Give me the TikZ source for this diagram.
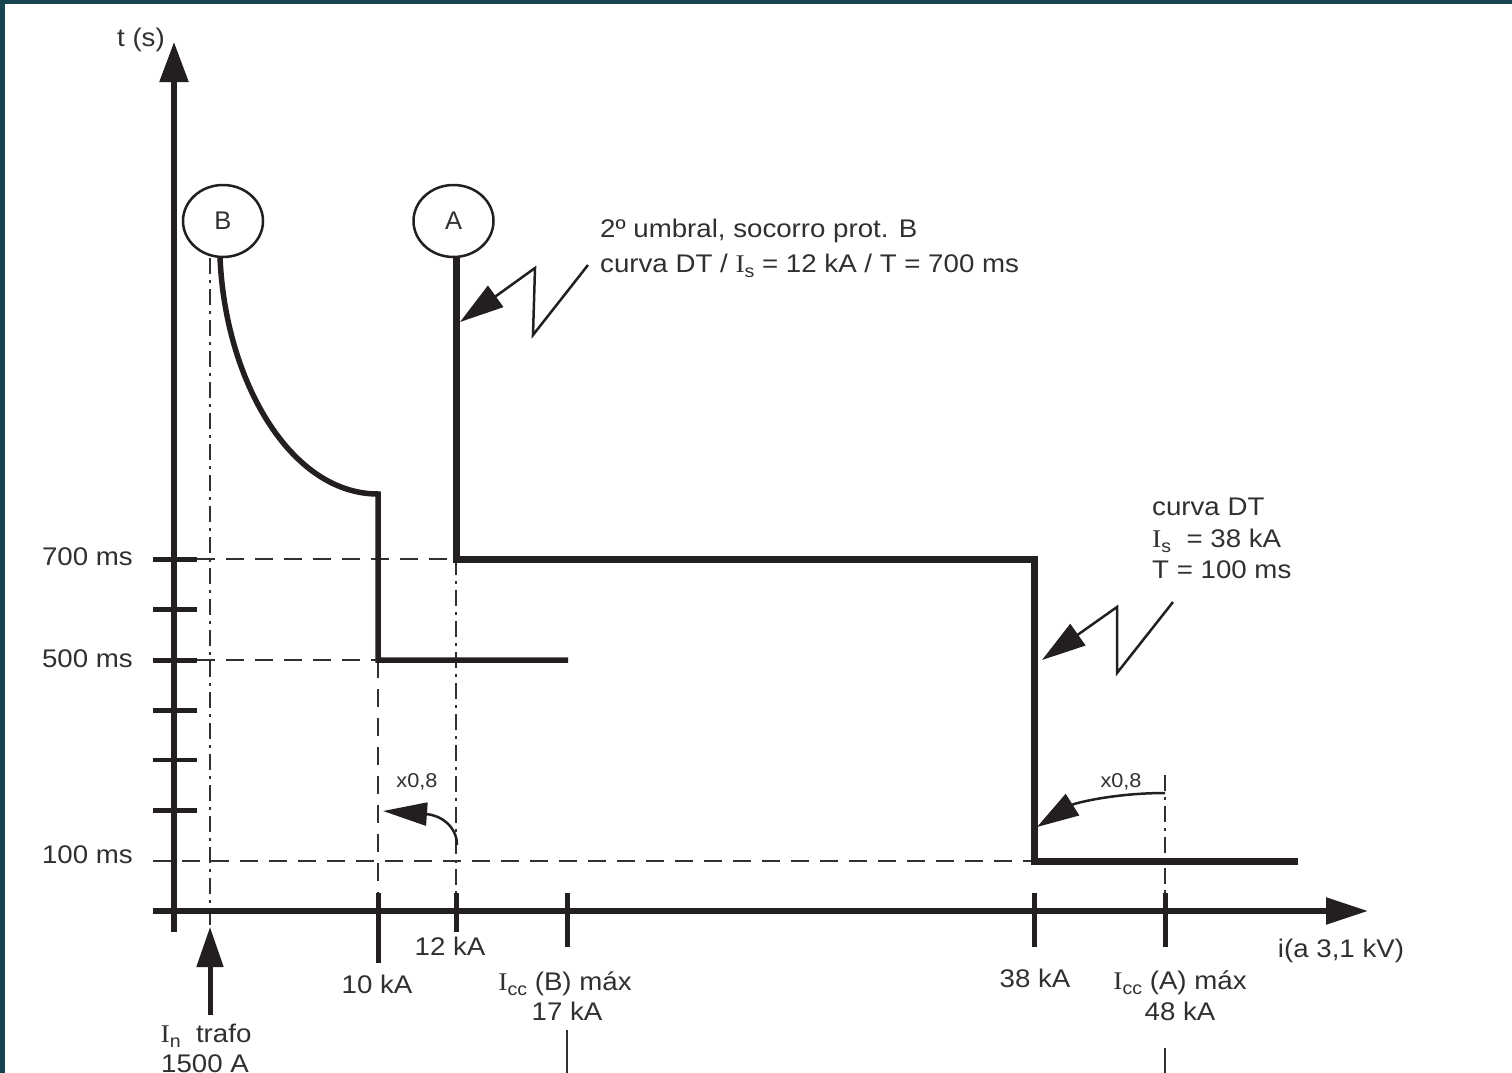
\documentclass[tikz,border=0pt]{standalone}
\usepackage{fontspec}
\setmainfont{Liberation Sans}
\newfontfamily\serifI{Liberation Serif}
\usetikzlibrary{arrows.meta,shapes.geometric}
\definecolor{teal0}{RGB}{23,68,80}
\definecolor{ink}{RGB}{35,31,32}
\definecolor{txt}{RGB}{48,48,48}
\newcommand{\Isub}[1]{{\serifI I}\raisebox{-0.2em}{\fontsize{18}{18}\selectfont #1}}
\begin{document}
\begin{tikzpicture}[x=1pt,y=-1pt,
  lbl/.style={font=\fontsize{25.5}{28}\selectfont, text=txt, inner sep=0pt, xscale=1.085},
  small/.style={font=\fontsize{20}{22}\selectfont, text=txt, inner sep=0pt, xscale=1.085},
  axis/.style={line width=5.5pt, draw=ink},
  tickmark/.style={line width=5pt, draw=ink},
  curveA/.style={line width=7pt, draw=ink},
  curveB/.style={line width=5.5pt, draw=ink},
  guide/.style={line width=1.8pt, draw=txt, dash pattern=on 18pt off 11pt},
  guidedd/.style={line width=1.8pt, draw=txt, dash pattern=on 16pt off 6pt on 3pt off 6pt},
  pointer/.style={line width=2.5pt, draw=ink, -{Triangle[length=44pt,width=26pt]}},
  bubble/.style={ellipse, draw=ink, line width=2.5pt, minimum width=80pt, minimum height=72pt, inner sep=0pt, font=\fontsize{25.5}{28}\selectfont, text=txt},
]
\fill[teal0] (0,0) rectangle (1512,1073);
\fill[white] (5,4) rectangle (1512,1073);
\useasboundingbox (0,0) rectangle (1512,1073);

% guides
\draw[guide] (197,559) -- (456,559);
\draw[guide] (197,660) -- (378,660);
\draw[guide] (153,861) -- (1034,861);
\draw[guide] (378,660) -- (378,893);
\draw[guidedd] (456,559) -- (456,893);
\draw[guidedd] (210,258) -- (210,925);
\draw[guidedd] (1165,775) -- (1165,893);
\draw[line width=1.8pt, draw=txt] (567,1030) -- (567,1073);
\draw[line width=1.8pt, draw=txt] (1165,1048) -- (1165,1073);

% axes
\draw[axis, -{Triangle[length=40pt,width=28pt]}] (174,932) -- (174,42);
\draw[axis, -{Triangle[length=42pt,width=26pt]}] (153,911) -- (1368,911);

% y ticks
\foreach \yy in {559,609,660,710,810} \draw[tickmark] (153,\yy) -- (197,\yy);
\draw[tickmark, line width=3.5pt] (153,760) -- (197,760);

% x ticks
\draw[tickmark] (378,893) -- (378,963);
\draw[tickmark] (456,893) -- (456,932);
\draw[tickmark] (567,893) -- (567,947);
\draw[tickmark] (1034,893) -- (1034,947);
\draw[tickmark] (1165,893) -- (1165,947);

% bubbles
\node[bubble] (B) at (223,221) {B};
\node[bubble] (A) at (453.5,221) {A};

% curves
\draw[curveB] (220,257) .. controls (225,380) and (290,494) .. (378,494) -- (378,660) -- (568,660);
\draw[curveA] (456,257) -- (456,559) -- (1034,559) -- (1034,861) -- (1298,861);

% pointers
\draw[pointer] (588,265) -- (533,335) -- (535,268) -- (460,322);
\draw[pointer] (1173,602) -- (1117,673) -- (1117,607) -- (1042,660);
\draw[line width=2.5pt, draw=ink, -{Triangle[length=44pt,width=23pt]}] (457,845) .. controls (457,826) and (440,815) .. (383,811);
\draw[line width=2.5pt, draw=ink, -{Triangle[length=42pt,width=25pt]}] (1165,793) .. controls (1115,793) and (1075,803) .. (1037,827);
\draw[line width=5pt, draw=ink, -{Triangle[length=40pt,width=26pt]}] (210,1015) -- (210,927);

% labels
\node[lbl, anchor=base east] (ts) at (165,47) {t (s)};
\node[lbl, anchor=base east] (l700) at (133,565) {700 ms};
\node[lbl, anchor=base east] (l500) at (133,667) {500 ms};
\node[lbl, anchor=base east] (l100) at (133,863) {100 ms};
\node[lbl, anchor=base] (k12) at (450,955) {12 kA};
\node[lbl, anchor=base] (k10) at (377,993) {10 kA};
\node[lbl, anchor=base] (iccb) at (565,990) {\Isub{cc} (B) máx};
\node[lbl, anchor=base] (k17) at (567,1020) {17 kA};
\node[lbl, anchor=base] (k38) at (1035,987) {38 kA};
\node[lbl, anchor=base] (icca) at (1180,989) {\Isub{cc} (A) máx};
\node[lbl, anchor=base] (k48) at (1180,1020) {48 kA};
\node[lbl, anchor=base] (iax) at (1341,957) {i(a 3,1 kV)};
\node[small, anchor=base] (x1) at (417,787) {x0,8};
\node[small, anchor=base] (x2) at (1121,787) {x0,8};
\node[lbl, anchor=base] (intr) at (206,1042) {\Isub{n}\ \ trafo};
\node[lbl, anchor=base] (i1500) at (205,1072) {1500 A};
\node[lbl, anchor=base west] (ann1) at (600,237) {2º umbral, socorro prot. B};
\node[lbl, anchor=base west] (ann2) at (600,272) {curva DT / \Isub{s} = 12 kA / T = 700 ms};
\node[lbl, anchor=base west] (ann3) at (1152,515) {curva DT};
\node[lbl, anchor=base west] (ann4) at (1152,547) {\Isub{s}\ \ = 38 kA};
\node[lbl, anchor=base west] (ann5) at (1152,578) {T = 100 ms};
\end{tikzpicture}
\end{document}
